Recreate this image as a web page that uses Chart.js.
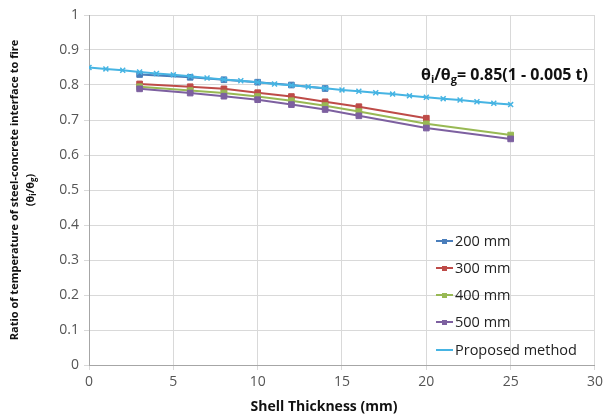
<!DOCTYPE html>
<html>
<head>
<meta charset="utf-8">
<script src="https://cdn.jsdelivr.net/npm/chart.js@4"></script>
<style>
  html, body { margin: 0; padding: 0; background: #fff; }
  #wrap { width: 607px; height: 419px; }
</style>
</head>
<body>
<div id="wrap"><canvas id="myChart" width="607" height="419"></canvas></div>
<script>
// shell thickness (mm) at which the FE results were reported
const thick200 = [3, 6, 8, 10, 12, 14];
const ratio200 = [0.830, 0.822, 0.815, 0.808, 0.800, 0.790];
const thick300 = [3, 6, 8, 10, 12, 14, 16, 20];
const ratio300 = [0.803, 0.795, 0.789, 0.778, 0.767, 0.752, 0.738, 0.705];
const thick400 = [3, 6, 8, 10, 12, 14, 16, 20, 25];
const ratio400 = [0.795, 0.784, 0.777, 0.767, 0.755, 0.741, 0.724, 0.689, 0.657];
const thick500 = [3, 6, 8, 10, 12, 14, 16, 20, 25];
const ratio500 = [0.789, 0.777, 0.768, 0.758, 0.744, 0.730, 0.712, 0.677, 0.646];
// proposed line, one marker per mm
const thickProp = [0, 1, 2, 3, 4, 5, 6, 7, 8, 9, 10, 11, 12, 13, 14, 15, 16, 17, 18, 19, 20, 21, 22, 23, 24, 25];
const ratioProp = [0.850, 0.846, 0.842, 0.837, 0.833, 0.829, 0.825, 0.820, 0.816, 0.812, 0.808, 0.803, 0.799, 0.795, 0.791,
                   0.786, 0.782, 0.778, 0.774, 0.769, 0.765, 0.761, 0.757, 0.752, 0.748, 0.744];
const seriesNames = ['200 mm', '300 mm', '400 mm', '500 mm', 'Proposed method'];
const seriesColors = ['#4a7ebb', '#be4b48', '#98b954', '#7d60a0', '#46b4e3'];

const FONT = '"Open Sans", "Noto Sans", sans-serif';
const pts = (xs, ys) => xs.map((x, i) => ({ x: x, y: ys[i] }));

const allX = [thick200, thick300, thick400, thick500, thickProp];
const allY = [ratio200, ratio300, ratio400, ratio500, ratioProp];

const datasets = seriesNames.map((name, i) => {
  const isProp = i === 4;
  return {
    label: name,
    data: pts(allX[i], allY[i]),
    borderColor: seriesColors[i],
    backgroundColor: seriesColors[i],
    borderWidth: 2,
    pointStyle: isProp ? 'crossRot' : 'rect',
    pointRadius: isProp ? 3.5 : 4,
    pointBorderWidth: isProp ? 1.5 : 1,
    tension: 0,
    order: isProp ? 0 : 5 - i
  };
});

// legend, axis titles and the equation, drawn over the chart
const extras = {
  id: 'extras',
  afterDraw(chart) {
    const c = chart.ctx;
    const area = chart.chartArea;
    c.save();

    // legend
    c.font = '14.5px ' + FONT;
    c.textBaseline = 'middle';
    const rows = [241, 268, 295, 322, 350];
    seriesNames.forEach((name, i) => {
      const y = rows[i];
      c.strokeStyle = seriesColors[i];
      c.lineWidth = 2;
      c.beginPath();
      c.moveTo(436, y);
      c.lineTo(453, y);
      c.stroke();
      if (i < 4) {
        c.fillStyle = seriesColors[i];
        c.fillRect(442, y - 2, 5, 5);
      }
      c.fillStyle = '#222';
      c.textAlign = 'left';
      c.fillText(name, 455, y + 1);
    });

    // equation
    c.fillStyle = '#111';
    c.textBaseline = 'alphabetic';
    let x = 421;
    const yb = 80;
    const big = 'bold 16px ' + FONT;
    const small = 'bold 11px ' + FONT;
    const put = (t, f, dy) => { c.font = f; c.fillText(t, x, yb + dy); x += c.measureText(t).width; };
    put('θ', big, 0); put('i', small, 3); put('/θ', big, 0); put('g', small, 3); put('= 0.85(1 - 0.005 t)', big, 0);

    // x title
    c.font = 'bold 14px ' + FONT;
    c.textAlign = 'center';
    c.fillText('Shell Thickness (mm)', 324, 411);

    // y title
    c.translate(0, (area.top + area.bottom) / 2);
    c.rotate(-Math.PI / 2);
    c.font = 'bold 11px ' + FONT;
    c.fillText('Ratio of temperature of steel-concrete interface to fire', 0, 18);
    const l2 = ['(θ', 'i', '/θ', 'g', ')'];
    let w = 0;
    l2.forEach((t, k) => { c.font = (k % 2 ? 'bold 8px ' : 'bold 11px ') + FONT; w += c.measureText(t).width; });
    c.textAlign = 'left';
    x = -w / 2;
    l2.forEach((t, k) => {
      c.font = (k % 2 ? 'bold 8px ' : 'bold 11px ') + FONT;
      c.fillText(t, x, 34 + (k % 2 ? 2 : 0));
      x += c.measureText(t).width;
    });
    c.restore();
  }
};

new Chart(document.getElementById('myChart'), {
  type: 'line',
  data: { datasets: datasets },
  options: {
    responsive: false,
    animation: false,
    layout: { padding: { top: 15, right: 10, left: 0, bottom: 0 } },
    plugins: { legend: { display: false }, tooltip: { enabled: false } },
    scales: {
      x: {
        type: 'linear',
        min: 0, max: 30,
        ticks: { stepSize: 5, color: '#555', font: { size: 14, family: FONT }, padding: 4, maxRotation: 0 },
        grid: { color: '#d9d9d9', tickLength: 5, drawTicks: true },
        border: { color: '#a6a6a6' },
        afterFit(s) { s.height = 54; }
      },
      y: {
        min: 0, max: 1,
        ticks: { stepSize: 0.1, color: '#555', font: { size: 14, family: FONT }, padding: 5,
                 callback: v => String(Math.round(v * 10) / 10) },
        grid: { color: '#d9d9d9', tickLength: 5 },
        border: { color: '#a6a6a6' },
        afterFit(s) { s.width = 89; }
      }
    }
  },
  plugins: [extras]
});
</script>
</body>
</html>
